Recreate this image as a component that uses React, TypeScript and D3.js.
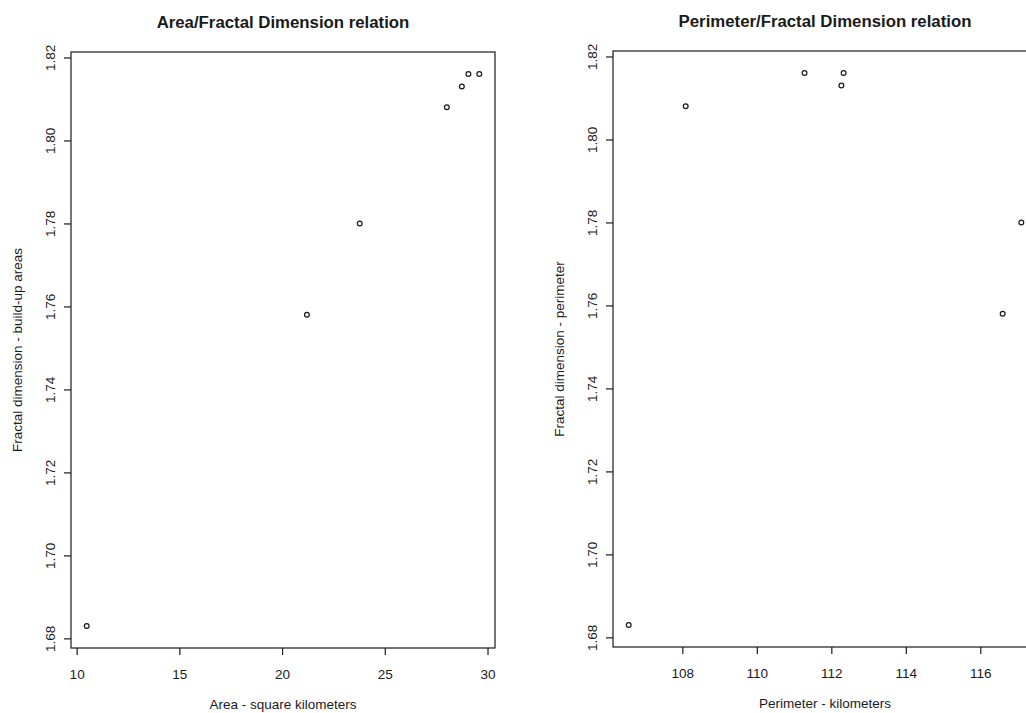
import React, { useRef, useEffect } from "react";
import * as d3 from "d3";

// values (one entry per study area)
const areaKm2 = [10.49, 21.21, 23.78, 28.02, 28.75, 29.07, 29.6];
const fdBuildUp = [1.683, 1.758, 1.78, 1.808, 1.813, 1.816, 1.816];

const perimeterKm = [106.56, 116.6, 117.1, 108.09, 112.27, 111.28, 112.33];
const fdPerimeter = [1.683, 1.758, 1.78, 1.808, 1.813, 1.816, 1.816];

const areaTicks = [10, 15, 20, 25, 30];
const perimeterTicks = [108, 110, 112, 114, 116];
const fdTicks = [1.68, 1.7, 1.72, 1.74, 1.76, 1.78, 1.8, 1.82];

const WIDTH = 1026;
const HEIGHT = 713;
const FONT = "'Liberation Sans', Arial, sans-serif";
const INK = "#1a1a1a";

// R-style range: data extent padded by 4% each side
const padded = (vals: number[]): [number, number] => {
  const [lo, hi] = d3.extent(vals) as [number, number];
  const p = (hi - lo) * 0.04;
  return [lo - p, hi + p];
};

interface PanelSpec {
  left: number;
  top: number;
  width: number;
  height: number;
  xs: number[];
  ys: number[];
  xTicks: number[];
  yTicks: number[];
  title: string;
  xLabel: string;
  yLabel: string;
}

const drawPanel = (svg: d3.Selection<SVGSVGElement, unknown, null, undefined>, p: PanelSpec) => {
  const x = d3.scaleLinear().domain(padded(p.xs)).range([p.left, p.left + p.width]);
  const y = d3.scaleLinear().domain(padded(p.ys)).range([p.top + p.height, p.top]);

  const g = svg.append("g");

  // box
  g.append("rect")
    .attr("x", p.left)
    .attr("y", p.top)
    .attr("width", p.width)
    .attr("height", p.height)
    .attr("fill", "none")
    .attr("stroke", INK)
    .attr("stroke-width", 1.2);

  // x axis
  const xAxis = g
    .append("g")
    .attr("transform", `translate(0,${p.top + p.height})`)
    .call(d3.axisBottom(x).tickValues(p.xTicks).tickSize(7).tickSizeOuter(0).tickFormat(d3.format("d")));
  xAxis.select(".domain").remove();
  xAxis.selectAll("line").attr("stroke", INK).attr("stroke-width", 1.2);
  xAxis
    .selectAll("text")
    .attr("y", 26)
    .attr("dy", "0.35em")
    .attr("fill", INK)
    .style("font-family", FONT)
    .style("font-size", "13.5px");

  // y axis, labels parallel to the axis like R's default
  const yAxis = g
    .append("g")
    .attr("transform", `translate(${p.left},0)`)
    .call(d3.axisLeft(y).tickValues(p.yTicks).tickSize(7).tickSizeOuter(0).tickFormat(d3.format(".2f")));
  yAxis.select(".domain").remove();
  yAxis.selectAll("line").attr("stroke", INK).attr("stroke-width", 1.2);
  yAxis
    .selectAll("text")
    .attr("x", 0)
    .attr("y", 0)
    .attr("dy", "0.35em")
    .attr("transform", "translate(-21,0) rotate(-90)")
    .attr("text-anchor", "middle")
    .attr("fill", INK)
    .style("font-family", FONT)
    .style("font-size", "13.5px");

  // points
  g.selectAll("circle")
    .data(p.xs.map((v, i) => [v, p.ys[i]]))
    .join("circle")
    .attr("cx", (d) => x(d[0]))
    .attr("cy", (d) => y(d[1]))
    .attr("r", 2.4)
    .attr("fill", "none")
    .attr("stroke", INK)
    .attr("stroke-width", 1.2);

  // title
  g.append("text")
    .attr("x", p.left + p.width / 2)
    .attr("y", p.top - 24)
    .attr("text-anchor", "middle")
    .attr("font-family", FONT)
    .attr("font-size", "16.8px")
    .attr("font-weight", "bold")
    .attr("fill", INK)
    .text(p.title);

  // axis titles
  g.append("text")
    .attr("x", p.left + p.width / 2)
    .attr("y", p.top + p.height + 61)
    .attr("text-anchor", "middle")
    .attr("font-family", FONT)
    .attr("font-size", "13.5px")
    .attr("fill", INK)
    .text(p.xLabel);

  g.append("text")
    .attr("transform", `translate(${p.left - 49},${p.top + p.height / 2}) rotate(-90)`)
    .attr("text-anchor", "middle")
    .attr("font-family", FONT)
    .attr("font-size", "13.5px")
    .attr("fill", INK)
    .text(p.yLabel);
};

const App = () => {
  const svgRef = useRef<SVGSVGElement>(null);

  useEffect(() => {
    const svg = d3.select(svgRef.current as SVGSVGElement);
    svg.selectAll("*").remove();

    drawPanel(svg, {
      left: 71,
      top: 52,
      width: 424,
      height: 596,
      xs: areaKm2,
      ys: fdBuildUp,
      xTicks: areaTicks,
      yTicks: fdTicks,
      title: "Area/Fractal Dimension relation",
      xLabel: "Area - square kilometers",
      yLabel: "Fractal dimension - build-up areas",
    });

    drawPanel(svg, {
      left: 613,
      top: 51,
      width: 424,
      height: 596,
      xs: perimeterKm,
      ys: fdPerimeter,
      xTicks: perimeterTicks,
      yTicks: fdTicks,
      title: "Perimeter/Fractal Dimension relation",
      xLabel: "Perimeter - kilometers",
      yLabel: "Fractal dimension - perimeter",
    });
  }, []);

  return (
    <div style={{ position: "fixed", left: 0, top: 0, width: WIDTH, height: HEIGHT, background: "#fff" }}>
      <svg ref={svgRef} width={WIDTH} height={HEIGHT} style={{ display: "block" }} />
    </div>
  );
};

export default App;
